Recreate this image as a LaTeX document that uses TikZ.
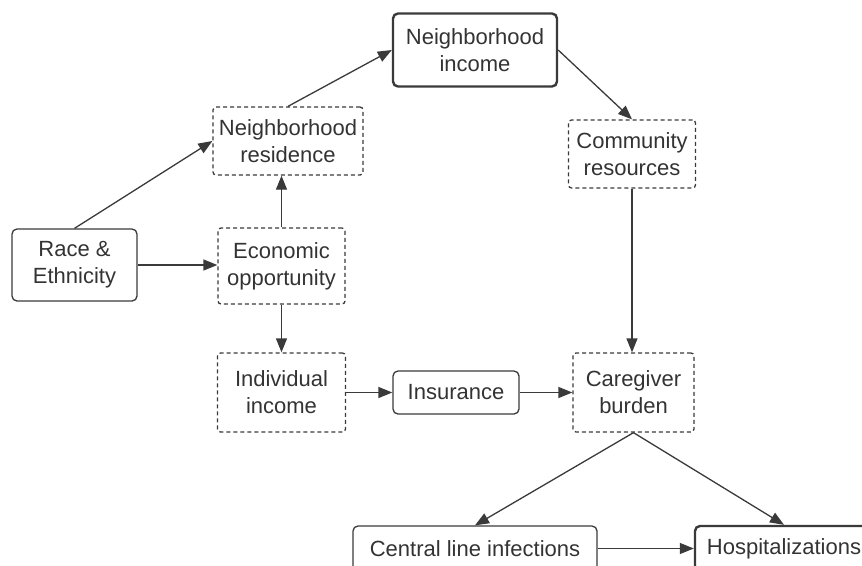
\documentclass[tikz,border=0pt]{standalone}
\usepackage{fontspec}
\setmainfont{Liberation Sans}
\usetikzlibrary{arrows.meta}
\definecolor{ink}{HTML}{333333}
\definecolor{linec}{HTML}{3A3A3A}
\tikzset{
  box/.style={draw=linec, line width=1.3pt, rounded corners=5pt, align=center, text=ink,
    font=\fontsize{22}{27}\selectfont, inner sep=0pt},
  solidbox/.style={box},
  boldbox/.style={box, line width=2.4pt},
  dashbox/.style={box, dash pattern=on 4pt off 3pt, rounded corners=3pt},
  conn/.style={draw=linec, line width=1.3pt, -{Triangle[length=14pt,width=11pt]}},
}
\begin{document}
\begin{tikzpicture}[x=1pt,y=-1pt]
\useasboundingbox (0,0) rectangle (862,565);
\clip (0,0) rectangle (862,565);
\node[boldbox, minimum width=164pt, minimum height=73pt] (ninc) at (475,50) {Neighborhood\\income};
\node[dashbox, minimum width=127pt, minimum height=68pt] (comm) at (632,154) {Community\\resources};
\node[dashbox, minimum width=150pt, minimum height=68pt] (res) at (288,141) {Neighborhood\\residence};
\node[solidbox, minimum width=125pt, minimum height=72pt] (race) at (74.5,265) {Race \&\\Ethnicity};
\node[dashbox, minimum width=127pt, minimum height=76pt] (econ) at (281.5,266) {Economic\\opportunity};
\node[dashbox, minimum width=128pt, minimum height=79pt] (indiv) at (281.5,392.5) {Individual\\income};
\node[solidbox, minimum width=126pt, minimum height=43pt] (ins) at (456,392.5) {Insurance};
\node[dashbox, minimum width=121pt, minimum height=79pt] (care) at (633.5,392.5) {Caregiver\\burden};
\node[solidbox, minimum width=244pt, minimum height=45pt] (central) at (475,548.5) {Central line infections};
\node[boldbox, minimum width=178pt, minimum height=45pt] (hosp) at (784,548.5) {Hospitalizations};

\draw[conn] (race.north) -- (res.west);
\draw[conn] (res.north) -- (ninc.west);
\draw[conn] (ninc.east) -- (comm.north);
\draw[conn] (econ.north) -- (econ.north |- res.south);
\draw[conn] (race.east) -- (econ.west |- race.east);
\draw[conn] (econ.south) -- (indiv.north);
\draw[conn] (indiv.east) -- (ins.west);
\draw[conn] (ins.east) -- (care.west);
\draw[conn] (comm.south) -- (comm.south |- care.north);
\draw[conn] (care.south) -- (central.north);
\draw[conn] (care.south) -- (hosp.north);
\draw[conn] (central.east) -- (hosp.west);
\end{tikzpicture}
\end{document}
